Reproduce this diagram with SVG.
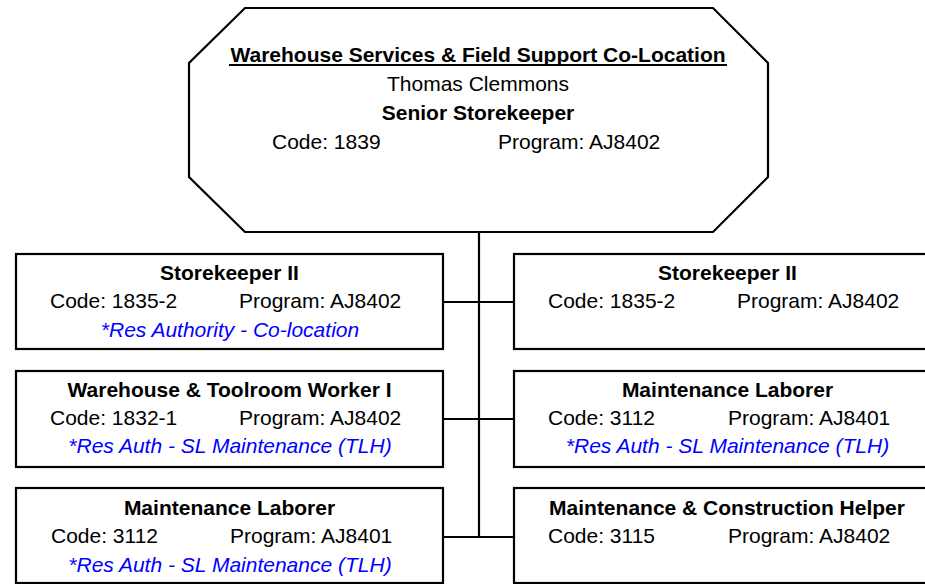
<svg xmlns="http://www.w3.org/2000/svg" width="925" height="584" viewBox="0 0 925 584">
<style>
text{font-family:"Liberation Sans",Arial,sans-serif;font-size:21px;fill:#000}
.b{font-weight:bold}
.c{text-anchor:middle}
.i{font-style:italic;fill:#0000FF;text-anchor:middle}
.box{fill:#fff;stroke:#000;stroke-width:2.2}
.ln{stroke:#000;stroke-width:2.2;fill:none}
</style>
<rect width="925" height="584" fill="#fff"/>
<g id="connectors">
<line class="ln" x1="479" y1="232" x2="479" y2="537"/>
<line class="ln" x1="443" y1="302" x2="514" y2="302"/>
<line class="ln" x1="443" y1="419" x2="514" y2="419"/>
<line class="ln" x1="443" y1="537" x2="514" y2="537"/>
</g>
<g id="top">
<polygon class="box" points="245,8 713,8 768,63 768,177 713,232 245,232 189,177 189,63"/>
<text class="b c" x="478" y="62">Warehouse Services &amp; Field Support Co-Location</text>
<line x1="229" y1="65" x2="727" y2="65" stroke="#000" stroke-width="2"/>
<text class="c" x="478" y="91">Thomas Clemmons</text>
<text class="b c" x="478" y="120">Senior Storekeeper</text>
<text x="272" y="149">Code: 1839</text>
<text x="498" y="149">Program: AJ8402</text>
</g>
<g id="n1">
<rect class="box" x="16" y="254" width="427" height="95"/>
<text class="b c" x="229.5" y="280">Storekeeper II</text>
<text x="50" y="308">Code: 1835-2</text>
<text x="239" y="308">Program: AJ8402</text>
<text class="i" x="230" y="337">*Res Authority - Co-location</text>
</g>
<g id="n2">
<rect class="box" x="514" y="254" width="427" height="95"/>
<text class="b c" x="727.5" y="280">Storekeeper II</text>
<text x="548" y="308">Code: 1835-2</text>
<text x="737" y="308">Program: AJ8402</text>
</g>
<g id="n3">
<rect class="box" x="16" y="371" width="427" height="96"/>
<text class="b c" x="229.5" y="397">Warehouse &amp; Toolroom Worker I</text>
<text x="50" y="425">Code: 1832-1</text>
<text x="239" y="425">Program: AJ8402</text>
<text class="i" x="230" y="453">*Res Auth - SL Maintenance (TLH)</text>
</g>
<g id="n4">
<rect class="box" x="514" y="371" width="427" height="96"/>
<text class="b c" x="727.5" y="397">Maintenance Laborer</text>
<text x="548" y="425">Code: 3112</text>
<text x="728" y="425">Program: AJ8401</text>
<text class="i" x="727.5" y="453">*Res Auth - SL Maintenance (TLH)</text>
</g>
<g id="n5">
<rect class="box" x="16" y="488" width="427" height="95"/>
<text class="b c" x="229.5" y="515">Maintenance Laborer</text>
<text x="51" y="543">Code: 3112</text>
<text x="230" y="543">Program: AJ8401</text>
<text class="i" x="230" y="572">*Res Auth - SL Maintenance (TLH)</text>
</g>
<g id="n6">
<rect class="box" x="514" y="488" width="427" height="95"/>
<text class="b c" x="727" y="515">Maintenance &amp; Construction Helper</text>
<text x="548" y="543">Code: 3115</text>
<text x="728" y="543">Program: AJ8402</text>
</g>
</svg>
